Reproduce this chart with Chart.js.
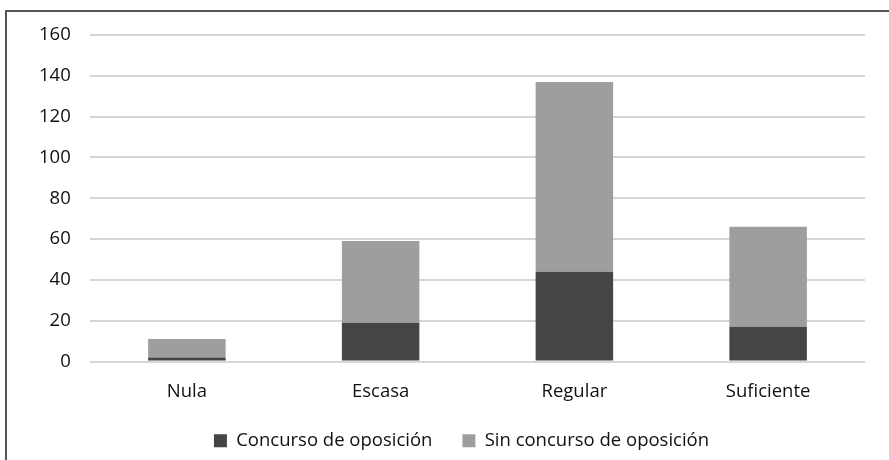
<!DOCTYPE html>
<html>
<head>
<meta charset="utf-8">
<script src="https://cdn.jsdelivr.net/npm/chart.js@4/dist/chart.umd.min.js"></script>
<style>
    body { margin: 0; background: #fff; }
    #wrap { position: relative; width: 889px; height: 460px; overflow: hidden; }
    #frame { position: absolute; left: 5px; top: 10px; width: 1000px; height: 1000px; border: 2px solid #555; }
    #chart { position: absolute; left: 0; top: 0; }
</style>
</head>
<body>
<div id="wrap">
    <div id="frame"></div>
    <canvas id="chart" width="889" height="460"></canvas>
</div>
<script>
// categorías y series
const categorias = ['Nula', 'Escasa', 'Regular', 'Suficiente'];
const concurso = [2, 19, 44, 17];
const sinConcurso = [9, 40, 93, 49];
const yMin = 0, yMax = 160, yPaso = 20;

const fuente = { family: 'Open Sans', size: 18.5 };

new Chart(document.getElementById('chart').getContext('2d'), {
    type: 'bar',
    data: {
        labels: categorias,
        datasets: [
            { label: 'Concurso de oposición', data: concurso, backgroundColor: '#454545' },
            { label: 'Sin concurso de oposición', data: sinConcurso, backgroundColor: '#9e9e9e' }
        ]
    },
    options: {
        responsive: false,
        animation: false,
        categoryPercentage: 1,
        barPercentage: 0.4,
        layout: { padding: { left: 58, right: 24, top: 35, bottom: 0 } },
        scales: {
            x: {
                stacked: true,
                grid: { display: false },
                border: { display: false },
                ticks: { color: '#111', font: fuente, padding: 11 },
                afterFit: s => { s.height = 40; }
            },
            y: {
                stacked: true,
                min: yMin,
                max: yMax,
                // mirror evita el recorte de las etiquetas; se colocan a la izquierda con padding negativo
                ticks: { stepSize: yPaso, color: '#111', font: fuente, mirror: true, crossAlign: 'far', padding: -51 },
                grid: { color: '#d6d6d6', lineWidth: 2, drawTicks: false },
                border: { display: false },
                afterFit: s => { s.width = 32; }
            }
        },
        plugins: {
            legend: {
                position: 'bottom',
                labels: { color: '#111', font: fuente, boxWidth: 13, boxHeight: 13, padding: 30 }
            },
            tooltip: { enabled: false }
        }
    }
});
</script>
</body>
</html>
